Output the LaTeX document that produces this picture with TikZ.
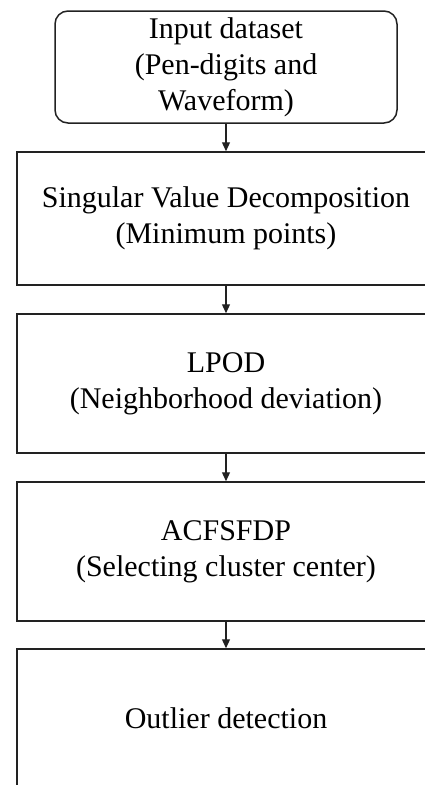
\documentclass[tikz,border=0pt]{standalone}
\usepackage{fontspec}
\setmainfont{Liberation Serif}
\usepackage{tikz}
\usetikzlibrary{arrows.meta, positioning}
\usepackage{xcolor}
\definecolor{edge}{HTML}{222222}

\begin{document}
\begin{tikzpicture}[
    x=1pt, y=1pt,
    font=\fontsize{30}{36}\selectfont,
    box/.style={draw=edge, line width=1.5pt, minimum width=418pt, minimum height=#1, align=center, inner sep=0pt},
    startbox/.style={box=112pt, minimum width=342pt, rounded corners=13pt},
    arr/.style={-{Triangle[length=9pt, width=8pt]}, line width=1.2pt, color=edge},
]
\path[use as bounding box] (0,0) rectangle (425,-785);
\clip (0,0) rectangle (425,-785);
\node[startbox] (inp) at (226,-67) {Input dataset \\ (Pen-digits and \\ Waveform)};
\node[box=133pt] (svd) at (226,-218.5) {Singular Value Decomposition \\ (Minimum points)};
\node[box=139pt] (lpod) at (226,-383.5) {LPOD \\ (Neighborhood deviation)};
\node[box=139pt] (acf) at (226,-551.5) {ACFSFDP \\ (Selecting cluster center)};
\node[box=139pt] (outl) at (226,-718.5) {Outlier detection};
\draw[arr] (inp) -- (svd);
\draw[arr] (svd) -- (lpod);
\draw[arr] (lpod) -- (acf);
\draw[arr] (acf) -- (outl);
\end{tikzpicture}
\end{document}
